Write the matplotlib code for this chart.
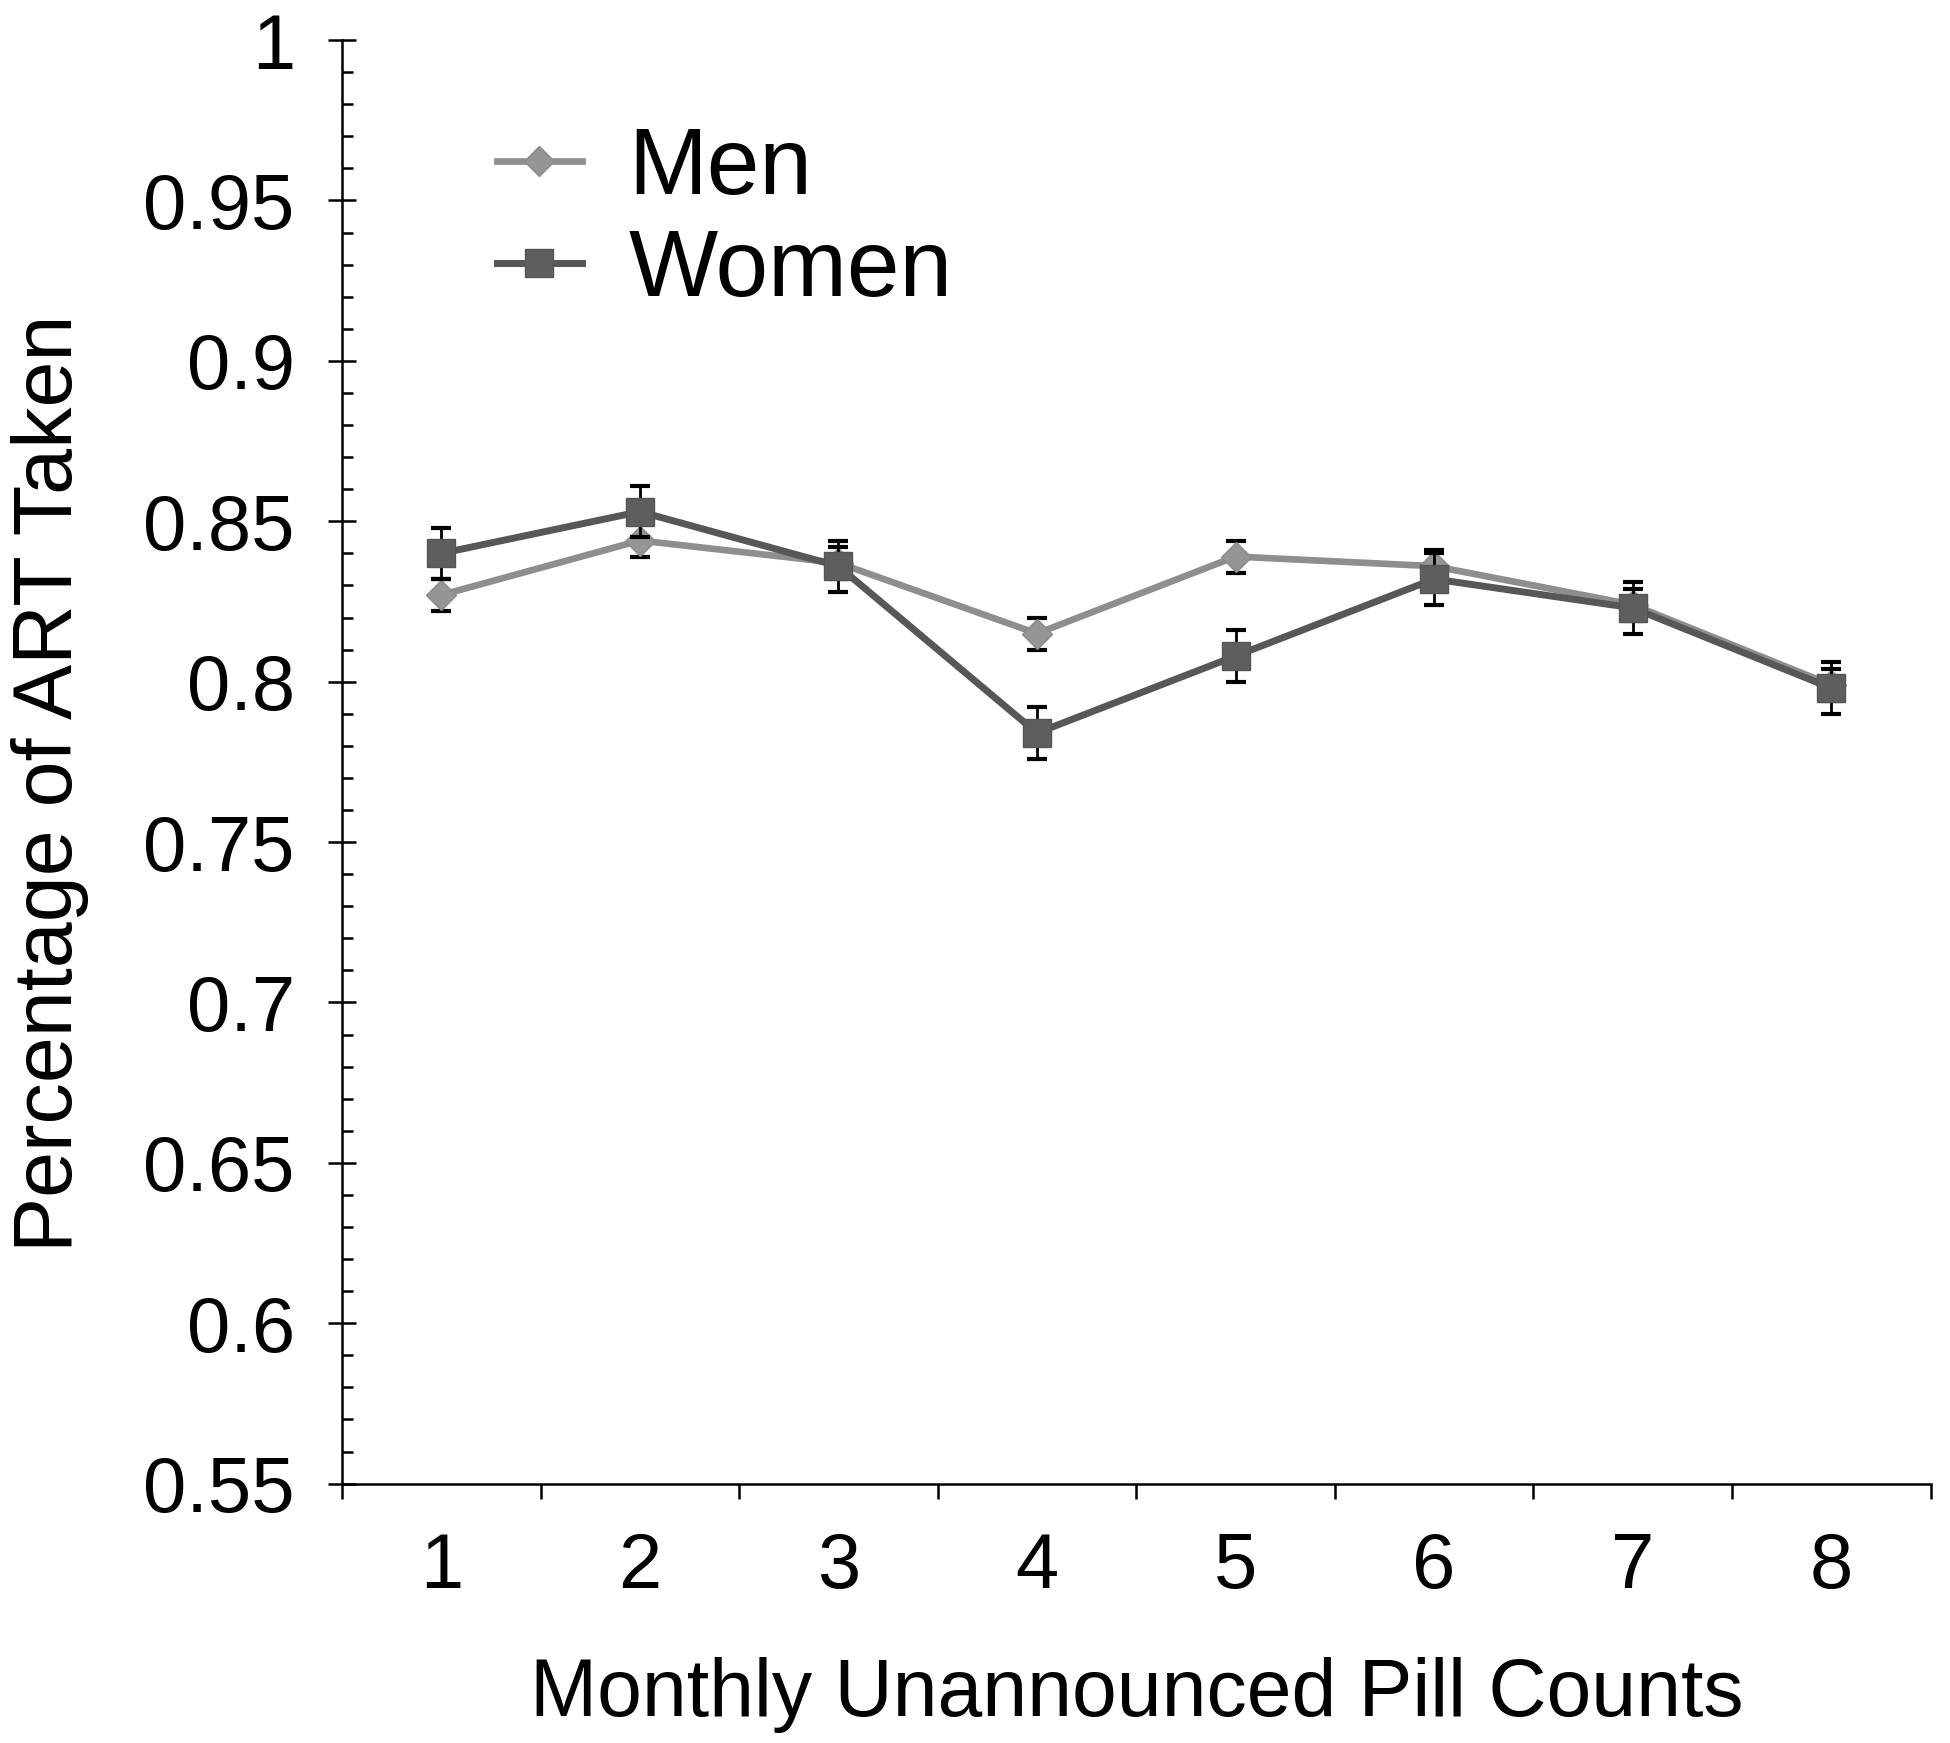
import matplotlib
matplotlib.use("Agg")
import matplotlib.pyplot as plt
from matplotlib.ticker import MultipleLocator, FixedLocator
from matplotlib.lines import Line2D

counts = [1, 2, 3, 4, 5, 6, 7, 8]
men = [0.827, 0.844, 0.837, 0.815, 0.839, 0.836, 0.824, 0.799]
men_err = [0.005, 0.005, 0.005, 0.005, 0.005, 0.005, 0.005, 0.005]
women = [0.840, 0.853, 0.836, 0.784, 0.808, 0.832, 0.823, 0.798]
women_err = [0.008, 0.008, 0.008, 0.008, 0.008, 0.008, 0.008, 0.008]
yticks = [0.55, 0.6, 0.65, 0.7, 0.75, 0.8, 0.85, 0.9, 0.95, 1.0]
ytick_labels = ["0.55", "0.6", "0.65", "0.7", "0.75", "0.8", "0.85", "0.9", "0.95", "1"]

plt.rcParams['font.family'] = ['Liberation Sans', 'DejaVu Sans']

fig = plt.figure(figsize=(19.5, 17.43), dpi=100)
ax = fig.add_axes([0.1754, 0.1488, 0.8146, 0.8282])

men_c = '#8e8e8e'
women_c = '#575757'

men_style = dict(color=men_c, lw=4.8, marker='D', ms=15, mfc='#959595', mec='#8a8a8a')
women_style = dict(color=women_c, lw=5.0, marker='s', ms=20, mfc='#5e5e5e', mec='#555555')

ax.errorbar(counts, men, yerr=men_err, ecolor='black', elinewidth=2,
            capsize=7, capthick=3, zorder=3, **men_style)
ax.errorbar(counts, women, yerr=women_err, ecolor='black', elinewidth=2,
            capsize=7, capthick=3, zorder=4, **women_style)

ax.set_xlim(0.5, 8.5)
ax.set_ylim(0.55, 1.0)
ax.set_yticks(yticks)
ax.set_yticklabels(ytick_labels)
ax.yaxis.set_minor_locator(MultipleLocator(0.01))
ax.set_xticks(counts)
ax.xaxis.set_minor_locator(FixedLocator([0.5 + i for i in range(9)]))

for s in ['top', 'right']:
    ax.spines[s].set_visible(False)
for s in ['left', 'bottom']:
    ax.spines[s].set_linewidth(1.8)

ax.tick_params(axis='y', which='major', direction='inout', length=20, width=1.8,
               labelsize=56, pad=24)
ax.tick_params(axis='y', which='minor', direction='in', length=8, width=1.8)
ax.tick_params(axis='x', which='major', length=0, labelsize=56, pad=34)
ax.tick_params(axis='x', which='minor', direction='out', length=11, width=1.8)

ax.set_xlabel('Monthly Unannounced Pill Counts', fontsize=58, labelpad=38)
ax.set_ylabel('Percentage of ART Taken', fontsize=59.5)
ax.yaxis.set_label_coords(-0.159, 0.485)

handles = [Line2D([], [], **men_style), Line2D([], [], **women_style)]
leg = ax.legend(handles, ['Men', 'Women'], loc='upper left',
                bbox_to_anchor=(0.044, 1.0), frameon=False,
                fontsize=68, handlelength=0.9, handletextpad=0.49,
                labelspacing=0.14)

fig.savefig('out.png', dpi=100)
